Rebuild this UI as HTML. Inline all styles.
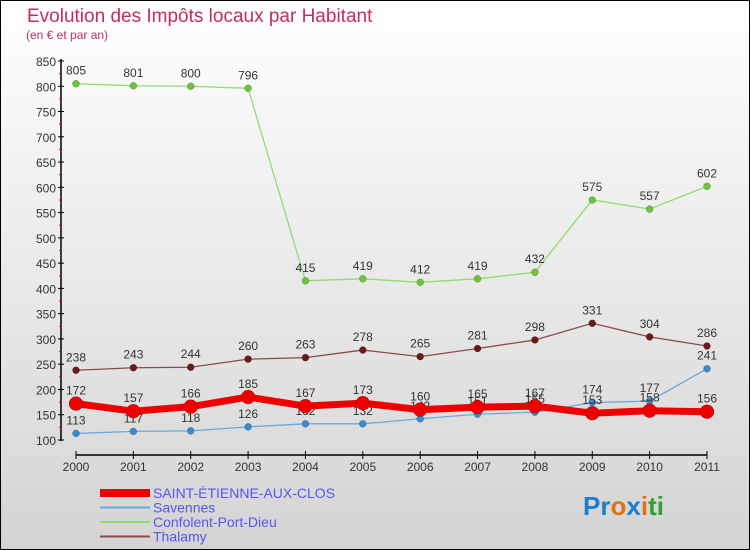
<!DOCTYPE html>
<html><head><meta charset="utf-8"><style>
body{margin:0}
#c{width:750px;height:550px;position:relative;box-sizing:border-box;border:1px solid #000;background:linear-gradient(#fff,#d4d4d4);font-family:"Liberation Sans",sans-serif;overflow:hidden}
</style></head><body>
<div id="c">
<svg id="s" width="750" height="550" style="position:absolute;left:-1px;top:-1px"></svg>
</div>
<script>
const years=["2000","2001","2002","2003","2004","2005","2006","2007","2008","2009","2010","2011"];
const yTicks=[100,150,200,250,300,350,400,450,500,550,600,650,700,750,800,850];
const stEtienne=[172,157,166,185,167,173,160,165,167,153,158,156];
const savennes=[113,117,118,126,132,132,142,151,155,174,177,241];
const confolent=[805,801,800,796,415,419,412,419,432,575,557,602];
const thalamy=[238,243,244,260,263,278,265,281,298,331,304,286];
const NS="http://www.w3.org/2000/svg";
const s=document.getElementById('s');
function X(i){return 76+i*(707-76)/11;}
function Y(v){return 440-(v-100)*(379/750);}
function el(t,a,txt){const e=document.createElementNS(NS,t);for(const k in a)e.setAttribute(k,a[k]);if(txt!==undefined)e.textContent=txt;s.appendChild(e);return e;}
let t=el('text',{x:27,y:22,fill:'#c0305a','font-size':19},'Evolution des Impôts locaux par Habitant');


t=el('text',{x:26,y:39,fill:'#c0305a','font-size':12},'(en € et par an)');


// axes
let a=el('line',{x1:61,y1:59,x2:61,y2:441,stroke:'#000','stroke-width':1.5});


a=el('line',{x1:76,y1:455,x2:707,y2:455,stroke:'#000','stroke-width':1.5});


yTicks.forEach((v,i)=>{
  el('line',{x1:58,y1:Y(v),x2:64,y2:Y(v),stroke:'#000'});
  if(i<yTicks.length-1)el('line',{x1:59,y1:Y(v+25),x2:62,y2:Y(v+25),stroke:'#e00'});
  const l=el('text',{x:56,y:Y(v)+5,'text-anchor':'end','font-size':12,fill:'#333'},v);
  
  
});
years.forEach((y,i)=>{
  el('line',{x1:X(i),y1:451,x2:X(i),y2:459,stroke:'#000'});
  const l=el('text',{x:X(i),y:471,'text-anchor':'middle','font-size':12,fill:'#333'},y);
  
  
});
function series(vals,color,w,r,pcol,name){
  const p=el('polyline',{points:vals.map((v,i)=>X(i)+','+Y(v)).join(' '),fill:'none',stroke:color,'stroke-width':w});
  
  
  vals.forEach((v,i)=>{
    const c=el('circle',{cx:X(i),cy:Y(v),r:r,fill:pcol,stroke:'rgba(0,0,0,0.3)','stroke-width':0.5});
    
    
    const l=el('text',{x:X(i),y:Y(v)-9,'text-anchor':'middle','font-size':12,fill:'#333'},v);
    
    
  });
}
series(thalamy,'#8a4a4a',1.3,3.5,'#6a1a1a','thalamy');
series(confolent,'#90dd70',1.3,3.5,'#6cc43c','confolent');
series(savennes,'#6aa8dd',1.3,3.5,'#3a8ad0','savennes');
series(stEtienne,'#ee0000',7,7,'#ee0000','saint-etienne');
// legend
const leg=[['SAINT-ÉTIENNE-AUX-CLOS','#ee0000',8],['Savennes','#6aa8dd',2],['Confolent-Port-Dieu','#90dd70',2],['Thalamy','#8a4a4a',2]];
leg.forEach((d,i)=>{
  const y=493+i*14.5;
  const ln=el('line',{x1:100,y1:y,x2:150,y2:y,stroke:d[1],'stroke-width':d[2]});
  
  
  const tx=el('text',{x:153,y:y+5,'font-size':14,fill:'#5555ee'},d[0]);
  
  
});
const lg=el('text',{x:583,y:515,'font-size':26,'font-weight':'bold'});


[['P','#1a7fd0'],['r','#1a7fd0'],['o','#e07010'],['x','#1a7fd0'],['i','#e07010'],['t','#30a030'],['i','#30a030']].forEach(c=>{const sp=document.createElementNS(NS,'tspan');sp.setAttribute('fill',c[1]);sp.textContent=c[0];lg.appendChild(sp);});
</script>
</body></html>
